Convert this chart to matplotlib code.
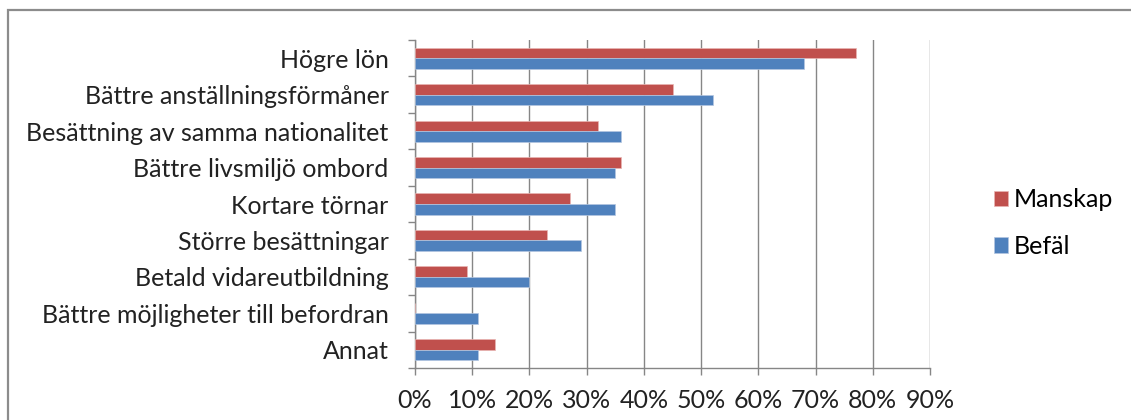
import matplotlib.pyplot as plt
import numpy as np
from matplotlib.patches import Rectangle
from matplotlib.ticker import FixedLocator

plt.rcParams['font.family'] = ['Lato', 'DejaVu Sans']

categories = ["Högre lön", "Bättre anställningsförmåner", "Besättning av samma nationalitet",
              "Bättre livsmiljö ombord", "Kortare törnar", "Större besättningar",
              "Betald vidareutbildning", "Bättre möjligheter till befordran", "Annat"]
manskap = [77, 45, 32, 36, 27, 23, 9, 0, 14]
befal = [68, 52, 36, 35, 35, 29, 20, 11, 11]
xticks = [0, 10, 20, 30, 40, 50, 60, 70, 80, 90]

red = "#C0504D"
blue = "#4F81BD"
axcol = "#868686"
fs = 18

W, H = 1131, 420
fig = plt.figure(figsize=(W / 100, H / 100), dpi=100)

# outer chart frame, runs off the right and bottom edge
fig.patches.append(Rectangle((8 / W, -0.05), 1.1, 1 - 10 / H + 0.05, transform=fig.transFigure,
                             fill=False, edgecolor="#8c8c8c", linewidth=1.6))

ax = fig.add_axes([415 / W, 1 - 368 / H, (930 - 415) / W, (368 - 40) / H])

y = np.arange(len(categories))
h = 0.29
ax.barh(y - h / 2, manskap, height=h, color=red, edgecolor="#e8b5b3", linewidth=0.5, label="Manskap", zorder=3)
ax.barh(y + h / 2, befal, height=h, color=blue, edgecolor="#b3c6e0", linewidth=0.5, label="Befäl", zorder=3)

ax.set_xlim(0, 90)
ax.set_ylim(len(categories) - 0.5, -0.5)
ax.set_xticks(xticks)
ax.set_xticklabels([f"{t}%" for t in xticks], fontsize=fs, color="#222222")
ax.xaxis.grid(True, color=axcol, linewidth=1.0, zorder=0)

# category ticks sit on band boundaries, labels at band centres
ax.yaxis.set_major_locator(FixedLocator(np.arange(len(categories) + 1) - 0.5))
ax.yaxis.set_minor_locator(FixedLocator(y))
ax.set_yticklabels([], minor=False)
ax.set_yticklabels(categories, minor=True, fontsize=fs, color="#222222")
ax.tick_params(axis='y', which='major', length=5, color=axcol, width=1)
ax.tick_params(axis='y', which='minor', length=0, pad=19)
ax.tick_params(axis='x', length=5, color=axcol, width=1, pad=10)

for s in ["top", "right"]:
    ax.spines[s].set_visible(False)
for s in ["left", "bottom"]:
    ax.spines[s].set_color(axcol)
    ax.spines[s].set_linewidth(1.0)

ax.legend(loc="center left", bbox_to_anchor=(971 / W, 1 - 223 / H), bbox_transform=fig.transFigure,
          frameon=False, fontsize=fs, handlelength=0.56, handleheight=0.56, labelspacing=0.95,
          handletextpad=0.25)

fig.savefig("out.png", dpi=100)
